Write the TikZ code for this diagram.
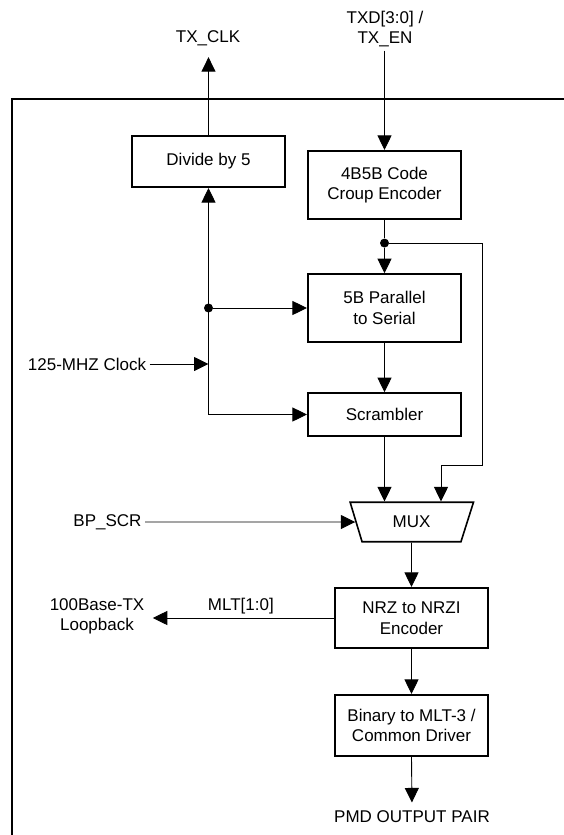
\documentclass[tikz,border=0pt]{standalone}
\usepackage{fontspec}
\setmainfont{Liberation Sans}
\usetikzlibrary{arrows.meta,positioning,shapes.geometric}

\begin{document}
\begin{tikzpicture}[x=1pt,y=-1pt,
      every node/.style={align=center,font=\fontsize{17}{20.5}\selectfont},
      blk/.style={draw,line width=1.6pt,minimum width=153.5pt,
                  minimum height=#1,inner sep=2pt},
      blk/.default=51.5pt,
      muxbox/.style={draw,line width=1.6pt,trapezium,trapezium stretches=true,
                  trapezium left angle=111,trapezium right angle=112,
                  minimum width=123.5pt,minimum height=39.5pt,inner sep=0pt},
      dot/.style={circle,fill,inner sep=0pt,minimum size=9pt},
      wire/.style={line width=0.9pt},
      arr/.style={-{Triangle[length=14.5pt,width=14pt]},line width=0.9pt},
      frm/.style={line width=2pt}
    ]
      \useasboundingbox (0,0) rectangle (564,835);
      % outer frame
      \draw[frm] (564,98.5) -- (12,98.5) -- (12,835);
      % blocks
      \node[blk] (div) at (208.5,161.5) {Divide by 5};
      \node[blk=68.5pt] (enc) at (384.5,185) {4B5B Code\\Croup Encoder};
      \node[blk=68pt] (ser) at (384.5,308) {5B Parallel\\to Serial};
      \node[blk=43pt] (scr) at (384.5,414.5) {Scrambler};
      \node[muxbox] (mux) at (411.5,522) {MUX};
      \node[blk=60.5pt] (nrzi) at (411.5,618) {NRZ to NRZI\\Encoder};
      \node[blk=61.5pt] (mlt3) at (411.5,725.5) {Binary to MLT-3 /\\Common Driver};
      % signals
      \node (txclk) at (208,38) {TX\_CLK};
      \node (txd) at (385,29) {TXD[3:0] /\\TX\_EN};
      \node (clkin) at (87,364) {125-MHZ Clock};
      \node (bpscr) at (107.5,522) {BP\_SCR};
      \node (loopb) at (97,616.5) {100Base-TX\\Loopback};
      \node (pmd) at (412,817) {PMD OUTPUT PAIR};
      \node[dot] (j1) at ([yshift=-23pt]enc.south) {};
      \node[dot] (j2) at (div.south |- ser.west) {};
      % connections
      \draw[arr,shorten >=8pt] (div.north) -- (div.north |- txclk.south);
      \draw[arr] (enc.north |- txd.south) -- (enc.north);
      \draw[wire] (enc.south) -- (j1);
      \draw[arr] (j1) -- (ser.north);
      \draw[arr] (j1) -| (482,465) -| ([xshift=29.5pt]mux.north);
      \draw[arr] (ser.south) -- (scr.north);
      \draw[arr] (scr.south) -- (scr.south |- mux.north);
      \draw[arr] (div.south |- scr.west) -- (div.south);
      \draw[arr] (div.south |- scr.west) -- (scr.west);
      \draw[arr] (j2) -- (ser.west);
      \draw[arr] (clkin.east) -- (clkin.east -| div.south);
      \draw[arr] (bpscr) -- (mux);
      \draw[arr] (mux.south) -- (nrzi.north);
      \draw[arr,shorten >=5pt] (nrzi.west) -- node[above] (mlt) {MLT[1:0]}
        (loopb.east |- nrzi.west);
      \draw[arr] (nrzi.south) -- (mlt3.north);
      \draw[arr,shorten >=5pt] (mlt3.south) -- (pmd.north);
    \end{tikzpicture}
\end{document}
